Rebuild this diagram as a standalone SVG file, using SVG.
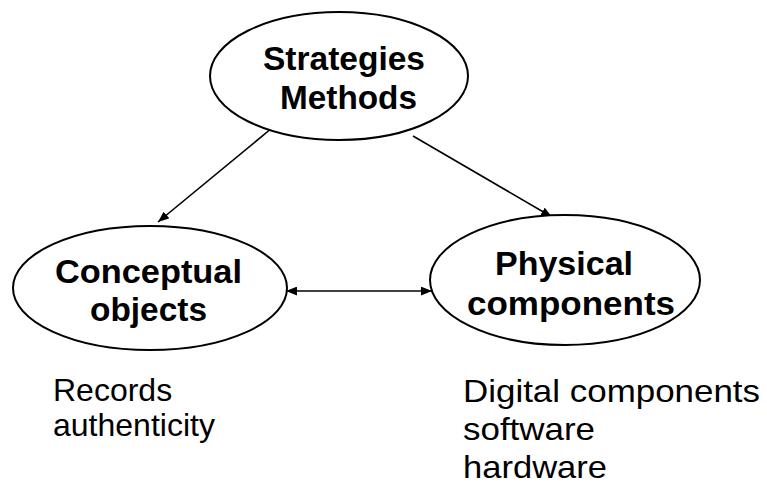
<svg xmlns="http://www.w3.org/2000/svg" width="767" height="485" viewBox="0 0 767 485">
<style>
.node{fill:#fff;stroke:#000;stroke-width:2}
.lbl{font-family:"Liberation Sans",Arial,sans-serif;font-weight:bold;font-size:33px;fill:#000}
.note{font-family:"Liberation Sans",Arial,sans-serif;font-size:32px;fill:#000}
.edge{stroke:#000;stroke-width:1.6;fill:none}
</style>
<defs>
<marker id="ah" viewBox="0 0 10 8" refX="10" refY="4" markerWidth="11" markerHeight="9" markerUnits="userSpaceOnUse" orient="auto-start-reverse">
<path d="M0,0 L10,4 L0,8 z" fill="#000"/>
</marker>
</defs>
<rect width="767" height="485" fill="#fff"/>
<g id="connectors">
<line class="edge" x1="272" y1="128" x2="158" y2="222" marker-end="url(#ah)"/>
<line class="edge" x1="413" y1="136" x2="552" y2="217" marker-end="url(#ah)"/>
<line class="edge" x1="286" y1="291" x2="432" y2="291" marker-start="url(#ah)" marker-end="url(#ah)"/>
</g>
<g id="strategies">
<ellipse class="node" cx="339" cy="76" rx="129" ry="64"/>
<text class="lbl" x="263" y="70" textLength="162" lengthAdjust="spacingAndGlyphs">Strategies</text>
<text class="lbl" x="280" y="109" textLength="137" lengthAdjust="spacingAndGlyphs">Methods</text>
</g>
<g id="conceptual">
<ellipse class="node" cx="150" cy="288" rx="137" ry="62"/>
<text class="lbl" x="55" y="283" textLength="187" lengthAdjust="spacingAndGlyphs">Conceptual</text>
<text class="lbl" x="90" y="321" textLength="117" lengthAdjust="spacingAndGlyphs">objects</text>
</g>
<g id="physical">
<ellipse class="node" cx="565" cy="280" rx="135" ry="65"/>
<text class="lbl" x="495" y="275" textLength="138" lengthAdjust="spacingAndGlyphs">Physical</text>
<text class="lbl" x="467" y="315" textLength="208" lengthAdjust="spacingAndGlyphs">components</text>
</g>
<g id="notes-left">
<text class="note" x="53" y="401">Records</text>
<text class="note" x="53" y="436">authenticity</text>
</g>
<g id="notes-right">
<text class="note" x="463" y="402" textLength="297" lengthAdjust="spacingAndGlyphs">Digital components</text>
<text class="note" x="463" y="440" textLength="132" lengthAdjust="spacingAndGlyphs">software</text>
<text class="note" x="463" y="478" textLength="144" lengthAdjust="spacingAndGlyphs">hardware</text>
</g>
</svg>
